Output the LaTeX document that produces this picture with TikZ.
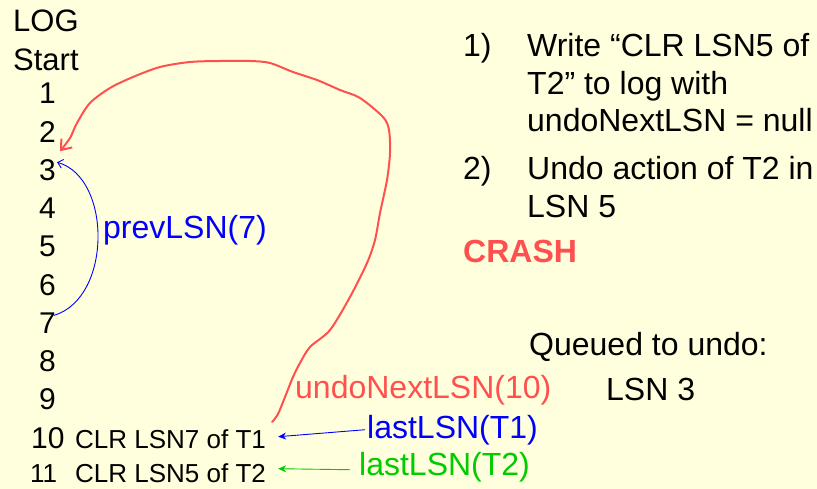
\documentclass[tikz,border=0pt]{standalone}
\usepackage{fontspec}
\setmainfont{Liberation Sans}
\usetikzlibrary{arrows.meta}
\definecolor{bgcol}{RGB}{255,255,221}
\definecolor{myred}{RGB}{255,80,80}
\definecolor{myblue}{RGB}{0,0,255}
\definecolor{mygreen}{RGB}{0,204,0}
\tikzset{
  txt/.style={inner sep=0pt, anchor=base west, font=\fontsize{32}{38}\selectfont},
  hdr/.style={inner sep=0pt, anchor=base west, font=\fontsize{31}{38}\selectfont},
  num/.style={inner sep=0pt, anchor=base, font=\fontsize{30}{38}\selectfont},
  small/.style={inner sep=0pt, anchor=base west, font=\fontsize{26}{30}\selectfont},
}
\begin{document}
\begin{tikzpicture}[x=1pt,y=-1pt]
\fill[bgcol] (0,0) rectangle (817,489);
\useasboundingbox (0,0) rectangle (817,489);

% left log column
\node[hdr] (log) at (13,32) {LOG};
\node[hdr] (start) at (13,71) {Start};
\foreach \k/\y in {1/104,2/142.2,3/180.4,4/218.6,5/256.8,6/295,7/333.2,8/371.4,9/409.6}{
  \node[num] (n\k) at (47.5,\y) {\k};
}
\node[inner sep=0pt, anchor=base west, font=\fontsize{30}{38}\selectfont] (n10) at (31,448) {10};
\node[small] (n11) at (30,482) {11};
\node[small] (c10) at (75,448) {CLR LSN7 of T1};
\node[small] (c11) at (75,482) {CLR LSN5 of T2};

% right list
\node[txt] (i1) at (463,57) {1)};
\node[txt] (w1) at (527,57) {Write “CLR LSN5 of};
\node[txt] (w2) at (527,94.5) {T2” to log with};
\node[txt] (w3) at (527,132) {undoNextLSN = null};
\node[txt] (i2) at (463,180) {2)};
\node[txt] (u1) at (527,180) {Undo action of T2 in};
\node[txt] (u2) at (527,217.5) {LSN 5};
\node[txt, text=myred, font=\fontsize{32}{38}\selectfont\bfseries] (crash) at (463,263) {CRASH};

\node[txt] (queued) at (529,355) {Queued to undo:};
\node[txt] (lsn3) at (606,400) {LSN 3};

% labels
\node[txt, text=myblue] (prev) at (103,239) {prevLSN(7)};
\node[txt, text=myred] (undonext) at (295,398) {undoNextLSN(10)};
\node[txt, text=myblue] (lt1) at (367,438) {lastLSN(T1)};
\node[txt, text=mygreen] (lt2) at (359,475) {lastLSN(T2)};

% connectors
\draw[myblue, line width=0.9pt, -{Straight Barb[length=5pt,width=9pt]}]
  ([shift={(-2pt,-3pt)}]n7.north east) .. controls (112,298) and (112,178) .. ([shift={(1pt,-3pt)}]n3.north east);

\draw[myblue, line width=0.9pt, -{Stealth[length=8pt,width=7pt]}]
  ([xshift=-2pt]lt1.west) -- ([shift={(12pt,2pt)}]c10.east);
\draw[mygreen, line width=0.9pt, -{Stealth[length=8pt,width=7pt]}]
  ([shift={(-9pt,-3pt)}]lt2.west) -- ([shift={(12pt,4pt)}]c11.east);

\coordinate (redtip) at ([shift={(4pt,8pt)}]n3.north east);
\draw[myred, line width=2pt, line join=round, line cap=round, -{Straight Barb[length=9pt,width=14pt]}]
  plot[smooth, tension=0.5] coordinates {
   ([shift={(6pt,7pt)}]c10.north east) (278,414) (285,397) (293,377) (300,363) (310,347)
   (330,330) (350,297) (367,263) (375,240) (380,213) (387,180) (390,153)
   (389,130) (383,117) (360,98) (340,90) (317,80) (293,72) (270,63) (250,61)
   (220,61) (190,62) (160,67) (133,77) (110,88) (90,103) (77,123) (70,138) (redtip)};
\end{tikzpicture}
\end{document}
